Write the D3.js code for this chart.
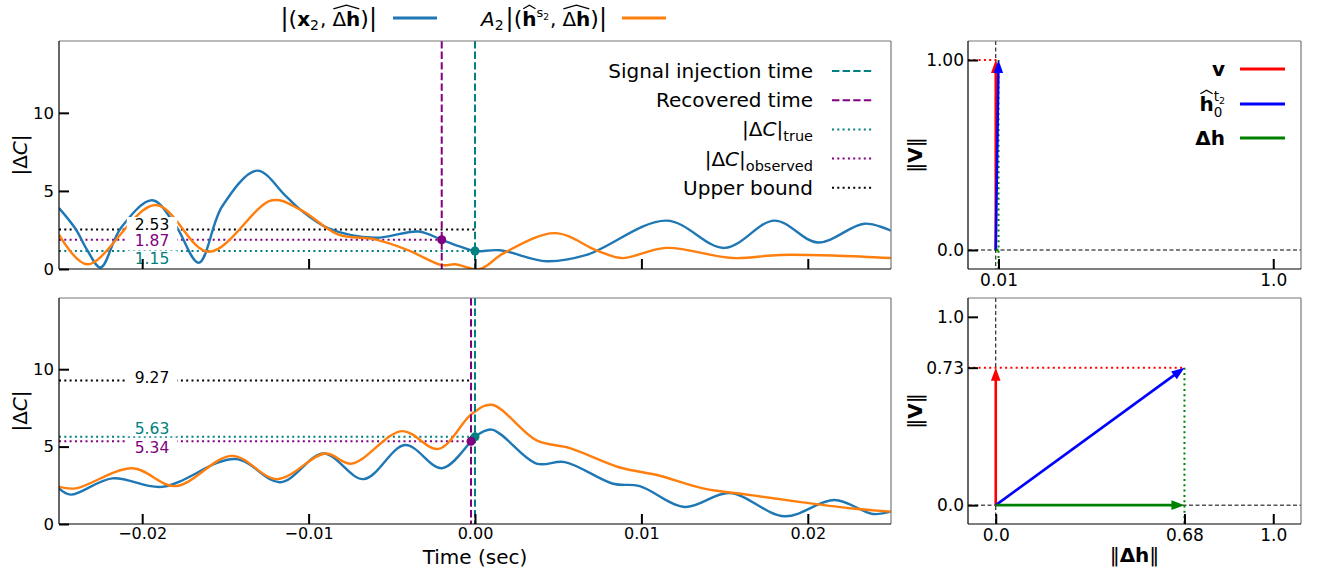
<!DOCTYPE html>
<html>
<head>
<meta charset="utf-8">
<title>Delta C overlap</title>
<script src="https://d3js.org/d3.v7.min.js"></script>
<style>
  body { margin: 0; background: #fff; }
  text { font-family: "DejaVu Sans", sans-serif; fill: #000; }
</style>
</head>
<body>
<div id="chart"></div>
<script>
// ---- data ----
// top panel |dC| curves (time in sec)
var topBlueT = [-0.025, -0.024, -0.0233, -0.0225, -0.0213, -0.0194, -0.018, -0.0166, -0.0152, -0.0131, -0.0114, -0.0105, -0.0088, -0.006, -0.0034, -0.002, -0.0008, 0, 0.0015, 0.0043, 0.0067, 0.0115, 0.015, 0.018, 0.0206, 0.0234, 0.025];
var topBlueV = [3.9, 2.56, 1.2, 0.1, 2.6, 4.4, 2.8, 0.4, 4.0, 6.3, 4.7, 3.8, 2.6, 2.0, 2.4, 1.87, 1.4, 1.15, 1.2, 0.5, 0.9, 3.1, 1.35, 3.1, 1.7, 2.9, 2.45];
var topOrangeT = [-0.025, -0.0233, -0.0192, -0.016, -0.0122, -0.0105, -0.0082, -0.006, -0.004, -0.002, -0.0012, 0.0003, 0.0017, 0.0048, 0.0073, 0.0088, 0.0115, 0.0155, 0.0183, 0.0218, 0.025];
var topOrangeV = [2.2, 0.3, 4.1, 1.1, 4.4, 3.8, 2.2, 1.9, 1.2, 0.25, 0.3, 0.0, 1.0, 2.3, 1.2, 0.7, 1.35, 0.7, 0.9, 0.85, 0.7];

// bottom panel |dC| curves
var botBlueT = [-0.025, -0.0243, -0.0218, -0.0188, -0.0144, -0.0117, -0.0091, -0.0067, -0.0042, -0.002, -0.00024, 0, 0.001, 0.0037, 0.0054, 0.0083, 0.0099, 0.0126, 0.0153, 0.0186, 0.0216, 0.0239, 0.025];
var botBlueV = [2.3, 1.9, 2.95, 2.4, 4.2, 2.7, 4.55, 2.9, 5.1, 3.6, 5.34, 5.63, 6.1, 3.9, 4.0, 2.6, 2.45, 1.1, 2.0, 0.5, 1.55, 0.65, 0.8];
var botOrangeT = [-0.025, -0.024, -0.0206, -0.018, -0.0146, -0.0119, -0.009, -0.0074, -0.0044, -0.0022, -0.0002, 0.001, 0.0037, 0.0057, 0.0087, 0.011, 0.0137, 0.0167, 0.0197, 0.0227, 0.025];
var botOrangeV = [2.4, 2.3, 3.6, 2.45, 4.4, 2.9, 4.55, 3.9, 6.0, 4.85, 7.1, 7.7, 5.4, 4.9, 3.65, 3.15, 2.3, 1.85, 1.4, 1.0, 0.8];

// markers: [true, observed, upper bound], [injection time, recovered time, upper-bound line end]
var topMarks = [1.15, 1.87, 2.53];
var topTimes = [0, -0.002, 0];
var botMarks = [5.63, 5.34, 9.27];
var botTimes = [0, -0.00024, -0.00024];

// vector panels: [|dh|, |v|] and tick labels
var topVec = [0.01, 1.00];
var botVec = [0.68, 0.73];
var topXTicks = [0.01, 1.0], topXLabels = ["0.01", "1.0"];
var topYTicks = [0.0, 1.0], topYLabels = ["0.0", "1.00"];
var botXTicks = [0.0, 0.68, 1.0], botXLabels = ["0.0", "0.68", "1.0"];
var botYTicks = [0.0, 0.73, 1.0], botYLabels = ["0.0", "0.73", "1.0"];

var timeTicks = [-0.02, -0.01, 0, 0.01, 0.02];
var dcTicks = [0, 5, 10];

var BLUE = "#1f77b4", ORANGE = "#ff7f0e", TEAL = "#008080", PURPLE = "#800080";
var DASH = "7.4,3.2", DOT = "2,3.3";

var svg = d3.select("#chart").append("svg").attr("width", 1320).attr("height", 571);

// text made of pieces (for sub/superscripts and hats)
function mtext(g, x, y, parts, anchor) {
  var grp = g.append("g");
  var cur = 0, maxX = 0, prevStart = 0, hatFrom = null;
  parts.forEach(function(p) {
    var size = p.s || 20;
    var sx = p.stack ? prevStart : cur;
    var t = grp.append("text").attr("x", sx).attr("y", p.dy || 0)
      .attr("font-size", size)
      .attr("font-weight", p.b ? "bold" : "normal")
      .attr("font-style", p.i ? "italic" : "normal")
      .style("fill", p.c || "#000")
      .text(p.t);
    var w = t.node().getComputedTextLength();
    if (p.hat === "start" || p.hat === true) hatFrom = sx;
    if (p.hat === "end" || p.hat === true) {
      var by = (p.dy || 0) - size * 0.86, ty = (p.dy || 0) - size * 1.04;
      grp.append("path")
        .attr("d", "M" + (hatFrom + 1) + "," + by + "L" + ((hatFrom + sx + w) / 2) + "," + ty + "L" + (sx + w - 1) + "," + by)
        .attr("fill", "none").attr("stroke", "#000").attr("stroke-width", 1.3);
    }
    prevStart = sx;
    cur = sx + w + (p.gap || 0);
    maxX = Math.max(maxX, cur);
  });
  var shift = anchor === "end" ? -maxX : anchor === "middle" ? -maxX / 2 : 0;
  grp.attr("transform", "translate(" + (x + shift) + "," + y + ")");
  return grp;
}

function spines(g, x0, y0, x1, y1) {
  g.append("line").attr("x1", x0).attr("y1", y0).attr("x2", x1).attr("y2", y0).attr("stroke", "#777").attr("stroke-width", 1.2);
  g.append("line").attr("x1", x1).attr("y1", y0).attr("x2", x1).attr("y2", y1).attr("stroke", "#777").attr("stroke-width", 1.2);
  g.append("line").attr("x1", x0).attr("y1", y0).attr("x2", x0).attr("y2", y1).attr("stroke", "#000").attr("stroke-width", 1.2);
  g.append("line").attr("x1", x0).attr("y1", y1).attr("x2", x1).attr("y2", y1).attr("stroke", "#000").attr("stroke-width", 1.2);
}

function styleAxis(sel, fs) {
  sel.select(".domain").remove();
  sel.selectAll(".tick line").attr("stroke", "#000").attr("stroke-width", 2);
  sel.selectAll(".tick text").attr("font-size", fs).attr("font-family", "DejaVu Sans").style("fill", "#000");
}

// ---- left panels ----
function drawLeft(id, top, bottom, blueT, blueV, orT, orV, marks, times, labelsOn, labelDy) {
  var L = 59, R = 891;
  var x = d3.scaleLinear().domain([-0.025, 0.025]).range([L, R]);
  var y = d3.scaleLinear().domain([0, 14.6]).range([bottom, top]);
  var g = svg.append("g");

  g.append("clipPath").attr("id", id).append("rect")
    .attr("x", L).attr("y", top).attr("width", R - L).attr("height", bottom - top);
  var inner = g.append("g").attr("clip-path", "url(#" + id + ")");

  // horizontal dotted levels
  var lvl = [
    { v: marks[2], t: times[2], c: "#000" },
    { v: marks[1], t: times[1], c: PURPLE },
    { v: marks[0], t: times[0], c: TEAL }
  ];
  lvl.forEach(function(d) {
    inner.append("line").attr("x1", L).attr("x2", x(d.t)).attr("y1", y(d.v)).attr("y2", y(d.v))
      .attr("stroke", d.c).attr("stroke-width", 2).attr("stroke-dasharray", DOT);
  });
  // number labels with white box
  lvl.forEach(function(d, i) {
    var ty = y(d.v) + labelDy[i];
    var t = g.append("text").attr("x", L + 93).attr("y", ty + 5.5).attr("text-anchor", "middle")
      .attr("font-size", 15.5).style("fill", d.c).text(d.v.toFixed(2));
    var w = t.node().getComputedTextLength();
    g.insert("rect", function() { return t.node(); })
      .attr("x", L + 93 - w / 2 - 8).attr("y", ty - 7.5).attr("width", w + 16).attr("height", 15)
      .attr("fill", "#fff");
  });

  var line = d3.line().x(function(d) { return x(d[0]); }).y(function(d) { return y(d[1]); })
    .curve(d3.curveCatmullRom.alpha(0.5));
  inner.append("path").datum(d3.zip(blueT, blueV)).attr("d", line)
    .attr("fill", "none").attr("stroke", BLUE).attr("stroke-width", 2.4);
  inner.append("path").datum(d3.zip(orT, orV)).attr("d", line)
    .attr("fill", "none").attr("stroke", ORANGE).attr("stroke-width", 2.4);

  // vertical dashed times
  [[times[1], PURPLE], [times[0], TEAL]].forEach(function(d) {
    inner.append("line").attr("x1", x(d[0])).attr("x2", x(d[0])).attr("y1", top).attr("y2", bottom)
      .attr("stroke", d[1]).attr("stroke-width", 2).attr("stroke-dasharray", DASH);
  });
  g.append("circle").attr("cx", x(times[0])).attr("cy", y(marks[0])).attr("r", 4.5).attr("fill", TEAL);
  g.append("circle").attr("cx", x(times[1])).attr("cy", y(marks[1])).attr("r", 4.5).attr("fill", PURPLE);

  spines(g, L, top, R, bottom);
  var ya = g.append("g").attr("transform", "translate(" + L + ",0)")
    .call(d3.axisLeft(y).tickValues(dcTicks).tickSize(-10).tickPadding(5));
  styleAxis(ya, 16.5);
  var xa = g.append("g").attr("transform", "translate(0," + bottom + ")")
    .call(d3.axisBottom(x).tickValues(timeTicks).tickSize(-10).tickPadding(4)
      .tickFormat(labelsOn ? d3.format(".2f") : function() { return ""; }));
  styleAxis(xa, 16);

  var yl = g.append("text").attr("transform", "translate(27," + ((top + bottom) / 2) + ") rotate(-90)")
    .attr("text-anchor", "middle").attr("font-size", 20);
  yl.append("tspan").text("|Δ");
  yl.append("tspan").attr("font-style", "italic").text("C");
  yl.append("tspan").text("|");
  return g;
}

drawLeft("clipTop", 41, 269, topBlueT, topBlueV, topOrangeT, topOrangeV, topMarks, topTimes, false, [-5, 1, 7]);
drawLeft("clipBot", 298, 524, botBlueT, botBlueV, botOrangeT, botOrangeV, botMarks, botTimes, true, [-3, 6, -8]);

svg.append("text").attr("x", 475).attr("y", 564).attr("text-anchor", "middle").attr("font-size", 20).text("Time (sec)");

// legend inside top-left panel
var legRows = [
  { parts: [{ t: "Signal injection time" }], c: TEAL, d: DASH },
  { parts: [{ t: "Recovered time" }], c: PURPLE, d: DASH },
  { parts: [{ t: "|Δ" }, { t: "C", i: true }, { t: "|" }, { t: "true", s: 14.5, dy: 5 }], c: TEAL, d: DOT },
  { parts: [{ t: "|Δ" }, { t: "C", i: true }, { t: "|" }, { t: "observed", s: 14.5, dy: 5 }], c: PURPLE, d: DOT },
  { parts: [{ t: "Upper bound" }], c: "#000", d: DOT }
];
legRows.forEach(function(r, i) {
  var ly = 71 + i * 29.2;
  mtext(svg, 813, ly + 7, r.parts, "end");
  svg.append("line").attr("x1", 832).attr("x2", 874).attr("y1", ly).attr("y2", ly)
    .attr("stroke", r.c).attr("stroke-width", 2).attr("stroke-dasharray", r.d);
});

// figure legend on top
mtext(svg, 377, 26, [
  { t: "|", s: 24 }, { t: "(", s: 22 }, { t: "x", b: true }, { t: "2", s: 14, dy: 4, gap: 1 },
  { t: ",", gap: 6 }, { t: "Δ", hat: "start" }, { t: "h", b: true, hat: "end" }, { t: ")", s: 22 }, { t: "|", s: 24 }
], "end");
svg.append("line").attr("x1", 393).attr("x2", 437).attr("y1", 18).attr("y2", 18).attr("stroke", BLUE).attr("stroke-width", 3);
mtext(svg, 607, 26, [
  { t: "A", i: true }, { t: "2", s: 14, dy: 4, gap: 2 }, { t: "|", s: 24 }, { t: "(", s: 22 },
  { t: "h", b: true, hat: true }, { t: "s", s: 13, dy: -9 }, { t: "2", s: 9, dy: -6, gap: 1 },
  { t: ",", gap: 6 }, { t: "Δ", hat: "start" }, { t: "h", b: true, hat: "end" }, { t: ")", s: 22 }, { t: "|", s: 24 }
], "end");
svg.append("line").attr("x1", 622).attr("x2", 666).attr("y1", 18).attr("y2", 18).attr("stroke", ORANGE).attr("stroke-width", 3);

// ---- right panels: vector diagrams ----
function arrow(g, x0, y0, x1, y1, color) {
  var dx = x1 - x0, dy = y1 - y0, len = Math.sqrt(dx * dx + dy * dy);
  var hl = 13, hw = 4.8;
  if (len < hl) {
    g.append("line").attr("x1", x0).attr("y1", y0).attr("x2", x1).attr("y2", y1).attr("stroke", color).attr("stroke-width", 2.6);
    return;
  }
  var ux = dx / len, uy = dy / len;
  var bx = x1 - ux * hl, by = y1 - uy * hl;
  g.append("line").attr("x1", x0).attr("y1", y0).attr("x2", bx + ux * 2).attr("y2", by + uy * 2)
    .attr("stroke", color).attr("stroke-width", 2.6);
  g.append("path").attr("d", "M" + x1 + "," + y1 + "L" + (bx - uy * hw) + "," + (by + ux * hw) +
      "L" + (bx + uy * hw) + "," + (by - ux * hw) + "Z").attr("fill", color);
}

function drawRight(top, bottom, vec, xt, xl, yt, yl, showXLabel) {
  var L = 968, R = 1301;
  var x = d3.scaleLinear().domain([-0.1, 1.1]).range([L, R]);
  var y = d3.scaleLinear().domain([-0.1, 1.1]).range([bottom, top]);
  var g = svg.append("g");
  var dh = vec[0], v = vec[1];

  g.append("line").attr("x1", x(0)).attr("x2", x(0)).attr("y1", top).attr("y2", bottom)
    .attr("stroke", "#000").attr("stroke-width", 1).attr("stroke-dasharray", "4,2.5");
  g.append("line").attr("x1", L).attr("x2", R).attr("y1", y(0)).attr("y2", y(0))
    .attr("stroke", "#000").attr("stroke-width", 1).attr("stroke-dasharray", "4,2.5");
  g.append("line").attr("x1", L).attr("x2", x(dh)).attr("y1", y(v)).attr("y2", y(v))
    .attr("stroke", "red").attr("stroke-width", 2).attr("stroke-dasharray", DOT);
  g.append("line").attr("x1", x(dh)).attr("x2", x(dh)).attr("y1", y(v)).attr("y2", bottom)
    .attr("stroke", "green").attr("stroke-width", 2).attr("stroke-dasharray", DOT);

  arrow(g, x(0), y(0), x(0), y(v), "red");
  arrow(g, x(0), y(0), x(dh), y(v), "blue");
  arrow(g, x(0), y(0), x(dh), y(0), "green");

  spines(g, L, top, R, bottom);
  var ya = g.append("g").attr("transform", "translate(" + L + ",0)")
    .call(d3.axisLeft(y).tickValues(yt).tickSize(-10).tickPadding(4)
      .tickFormat(function(d, i) { return yl[i]; }));
  styleAxis(ya, 17);
  var xa = g.append("g").attr("transform", "translate(0," + bottom + ")")
    .call(d3.axisBottom(x).tickValues(xt).tickSize(-10).tickPadding(5)
      .tickFormat(function(d, i) { return xl[i]; }));
  styleAxis(xa, 17);

  var lab = g.append("text").attr("transform", "translate(922," + ((top + bottom) / 2) + ") rotate(-90)")
    .attr("text-anchor", "middle").attr("font-size", 20);
  lab.append("tspan").text("‖");
  lab.append("tspan").attr("font-weight", "bold").text("V");
  lab.append("tspan").text("‖");

  if (showXLabel) {
    var xlab = g.append("text").attr("x", (L + R) / 2).attr("y", 562).attr("text-anchor", "middle").attr("font-size", 20);
    xlab.append("tspan").text("‖");
    xlab.append("tspan").attr("font-weight", "bold").text("Δh");
    xlab.append("tspan").text("‖");
  }
  return g;
}

drawRight(41, 269, topVec, topXTicks, topXLabels, topYTicks, topYLabels, false);
drawRight(298, 524, botVec, botXTicks, botXLabels, botYTicks, botYLabels, true);

// legend of the vector panel
var vecLeg = [
  { parts: [{ t: "v", b: true, s: 20 }], c: "red", y: 69 },
  { parts: [{ t: "h", b: true, s: 20, hat: true }, { t: "0", s: 13.5, dy: 6 }, { t: "t", s: 13.5, dy: -10, stack: true }, { t: "2", s: 9.5, dy: -7 }], c: "blue", y: 104 },
  { parts: [{ t: "Δh", b: true, s: 20 }], c: "green", y: 138 }
];
vecLeg.forEach(function(r) {
  mtext(svg, 1225, r.y + 7, r.parts, "end");
  svg.append("line").attr("x1", 1240).attr("x2", 1285).attr("y1", r.y).attr("y2", r.y)
    .attr("stroke", r.c).attr("stroke-width", 3);
});
</script>
</body>
</html>
